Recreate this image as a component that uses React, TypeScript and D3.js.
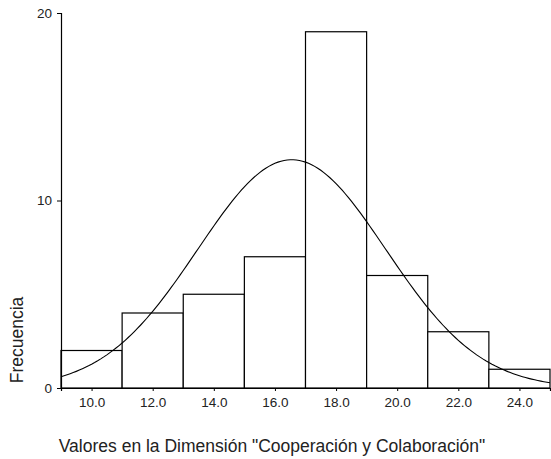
import React from "react";
import * as d3 from "d3";

// histogram bins (lower edge) and counts
const binStarts = [9, 11, 13, 15, 17, 19, 21, 23];
const binWidth = 2;
const counts = [2, 4, 5, 7, 19, 6, 3, 1];
const xTicks = [10, 12, 14, 16, 18, 20, 22, 24];
const yTicks = [0, 10, 20];

// normal curve fit parameters
const mean = 16.55;
const sd = 3.08;

const App = () => {
  const ref = React.useRef<SVGSVGElement>(null);

  React.useEffect(() => {
    const svg = d3.select(ref.current);
    svg.selectAll("*").remove();

    const width = 551,
      height = 459;
    const margin = { top: 13, left: 61, right: 1, bottom: 71 };

    const x = d3.scaleLinear().domain([9, 25]).range([margin.left, width - margin.right]);
    const y = d3.scaleLinear().domain([0, 20]).range([height - margin.bottom, margin.top]);

    const font = "'Liberation Sans', Arial, sans-serif";

    // bars
    svg.append("g")
      .selectAll("rect")
      .data(binStarts)
      .join("rect")
      .attr("x", (d) => x(d))
      .attr("y", (_, i) => y(counts[i]))
      .attr("width", (d) => x(d + binWidth) - x(d))
      .attr("height", (_, i) => y(0) - y(counts[i]))
      .attr("fill", "#fff")
      .attr("stroke", "#000")
      .attr("stroke-width", 1.2);

    // normal curve
    const n = d3.sum(counts);
    const dens = (v: number) =>
      (n * binWidth) / (sd * Math.sqrt(2 * Math.PI)) * Math.exp(-0.5 * ((v - mean) / sd) ** 2);
    const pts = d3.range(9, 25.001, 0.1);
    svg.append("path")
      .datum(pts)
      .attr("d", d3.line<number>().x((d) => x(d)).y((d) => y(dens(d))))
      .attr("fill", "none")
      .attr("stroke", "#000")
      .attr("stroke-width", 1.1);

    // y axis
    const ya = svg.append("g")
      .attr("transform", `translate(${margin.left},0)`)
      .call(d3.axisLeft(y).tickValues(yTicks).tickSize(4).tickPadding(5).tickFormat(d3.format("d")));
    ya.select(".domain").attr("stroke-width", 1.2);
    ya.selectAll("text").attr("font-family", font).attr("font-size", 13.5).attr("fill", "#222");

    // x axis
    const xa = svg.append("g")
      .attr("transform", `translate(0,${y(0)})`)
      .call(d3.axisBottom(x).tickValues(xTicks).tickSize(3).tickPadding(6).tickFormat(d3.format(".1f")));
    xa.select(".domain").attr("stroke-width", 1.2);
    xa.selectAll("text").attr("font-family", font).attr("font-size", 13.5).attr("fill", "#222");

    // titles
    svg.append("text")
      .attr("x", 272)
      .attr("y", 452)
      .attr("text-anchor", "middle")
      .attr("font-family", font)
      .attr("font-size", 17.5)
      .attr("fill", "#222")
      .text('Valores en la Dimensión "Cooperación y Colaboración"');

    svg.append("text")
      .attr("transform", "translate(23,340) rotate(-90)")
      .attr("text-anchor", "middle")
      .attr("font-family", font)
      .attr("font-size", 17.5)
      .attr("fill", "#222")
      .text("Frecuencia");
  }, []);

  return (
    <div style={{ position: "absolute", left: 0, top: 0 }}>
      <svg ref={ref} width={551} height={459} style={{ display: "block", background: "#fff" }}></svg>
    </div>
  );
};

export default App;
